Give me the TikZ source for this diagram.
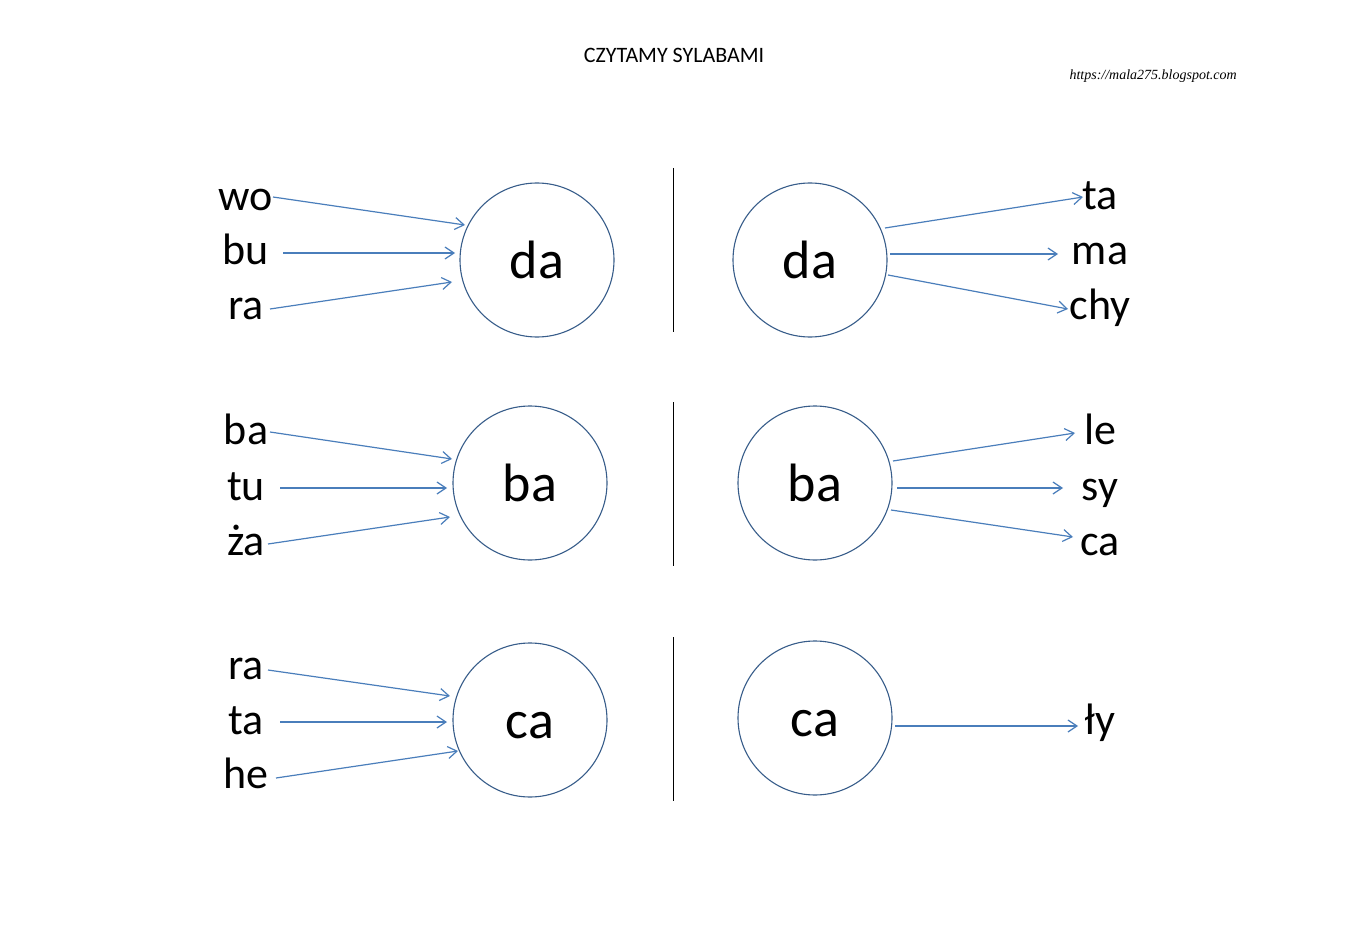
\documentclass[tikz,border=0pt]{standalone}
\usepackage{fontspec}
\setmainfont{Carlito}
\newfontfamily\urlfont{Liberation Serif}
\usetikzlibrary{arrows.meta}
\definecolor{arr}{HTML}{4A7EBB}
\definecolor{circ}{HTML}{385D8A}
\tikzset{
  syl/.style={circle,draw=circ,line width=1.1pt,minimum size=154pt,inner sep=0pt},
  syltext/.style={anchor=base,inner sep=0pt,font=\fontsize{54}{54}\selectfont},
  word/.style={anchor=base,inner sep=0pt,font=\fontsize{44}{44}\selectfont},
  conn/.style={draw=arr,line width=1.2pt,-{Straight Barb[length=9pt,width=12pt,line width=1.2pt]}},
  sep/.style={draw=black,line width=1pt}
}
\begin{document}
\begin{tikzpicture}[x=1pt,y=-1pt]
\useasboundingbox (0,0) rectangle (1347,952);
\fill[white] (0,0) rectangle (1347,952);
\node[font=\fontsize{22}{22}\selectfont] (title) at (674,55) {CZYTAMY SYLABAMI};
\node[font=\urlfont\itshape\fontsize{14}{14}\selectfont,anchor=west] (url) at (1066,76) {https://mala275.blogspot.com};
% separators
\coordinate (s1a) at (673,168); \coordinate (s1b) at (673,332);
\coordinate (s2a) at (673,402); \coordinate (s2b) at (673,566);
\coordinate (s3a) at (673,637); \coordinate (s3b) at (673,801);
\draw[sep] (s1a) -- (s1b);
\draw[sep] (s2a) -- (s2b);
\draw[sep] (s3a) -- (s3b);
% circles
\node[syl] (c1) at (537,260) {};
\node[syl] (c2) at (810,260) {};
\node[syl] (c3) at (530,483) {};
\node[syl] (c4) at (815,483) {};
\node[syl] (c5) at (530,720) {};
\node[syl] (c6) at (815,718) {};
\node[syltext] (t1) at (537,278) {da};
\node[syltext] (t2) at (810,278) {da};
\node[syltext] (t3) at (530,501) {ba};
\node[syltext] (t4) at (815,501) {ba};
\node[syltext] (t5) at (530,738) {ca};
\node[syltext] (t6) at (815,736) {ca};
% left words
\node[word] (w1) at (246,211) {wo};
\node[word] (w2) at (246,265) {bu};
\node[word] (w3) at (246,319) {ra};
\node[word] (w4) at (246,444) {ba};
\node[word] (w5) at (246,500) {tu};
\node[word] (w6) at (246,555) {ża};
\node[word] (w7) at (246,679) {ra};
\node[word] (w8) at (246,734) {ta};
\node[word] (w9) at (246,788) {he};
% right words
\node[word] (r1) at (1100,210) {ta};
\node[word] (r2) at (1100,265) {ma};
\node[word] (r3) at (1100,319) {chy};
\node[word] (r4) at (1100,444) {le};
\node[word] (r5) at (1100,500) {sy};
\node[word] (r6) at (1100,555) {ca};
\node[word] (r7) at (1100,734) {ły};
% arrow end points
\coordinate (a1s) at (273,197); \coordinate (a1e) at (465,225);
\coordinate (a2s) at (283,253); \coordinate (a2e) at (455,253);
\coordinate (a3s) at (270,309); \coordinate (a3e) at (452,282);
\coordinate (a4s) at (270,432); \coordinate (a4e) at (452,459);
\coordinate (a5s) at (280,488); \coordinate (a5e) at (447,488);
\coordinate (a6s) at (268,544); \coordinate (a6e) at (450,517);
\coordinate (a7s) at (268,670); \coordinate (a7e) at (450,696);
\coordinate (a8s) at (280,722); \coordinate (a8e) at (447,722);
\coordinate (a9s) at (276,778); \coordinate (a9e) at (458,751);
\coordinate (b1s) at (885,228); \coordinate (b1e) at (1083,197);
\coordinate (b2s) at (890,254); \coordinate (b2e) at (1058,254);
\coordinate (b3s) at (888,275); \coordinate (b3e) at (1068,309);
\coordinate (b4s) at (893,461); \coordinate (b4e) at (1075,433);
\coordinate (b5s) at (897,488); \coordinate (b5e) at (1063,488);
\coordinate (b6s) at (891,510); \coordinate (b6e) at (1073,537);
\coordinate (b7s) at (895,726); \coordinate (b7e) at (1078,726);
\foreach \i in {1,...,9}{\draw[conn] (a\i s) -- (a\i e);}
\foreach \i in {1,...,7}{\draw[conn] (b\i s) -- (b\i e);}
\end{tikzpicture}
\end{document}
